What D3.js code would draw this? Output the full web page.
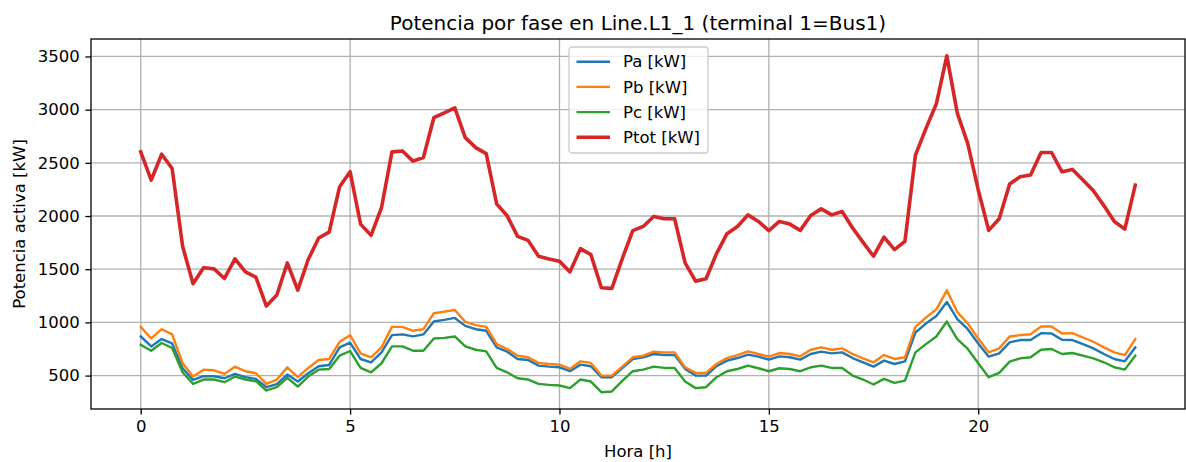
<!DOCTYPE html>
<html>
<head>
<meta charset="utf-8">
<script src="https://cdn.jsdelivr.net/npm/d3@7"></script>
<style>
  body { margin: 0; background: #fff; }
  svg { display: block; font-family: "DejaVu Sans", sans-serif; }
</style>
</head>
<body>
<svg id="chart" width="1186" height="462"></svg>
<script>
// hora del dia (paso de 15 min)
var hours = [0,0.25,0.5,0.75,1,1.25,1.5,1.75,2,2.25,2.5,2.75,3,3.25,3.5,3.75,
  4,4.25,4.5,4.75,5,5.25,5.5,5.75,6,6.25,6.5,6.75,7,7.25,7.5,7.75,
  8,8.25,8.5,8.75,9,9.25,9.5,9.75,10,10.25,10.5,10.75,11,11.25,11.5,11.75,
  12,12.25,12.5,12.75,13,13.25,13.5,13.75,14,14.25,14.5,14.75,15,15.25,15.5,15.75,
  16,16.25,16.5,16.75,17,17.25,17.5,17.75,18,18.25,18.5,18.75,19,19.25,19.5,19.75,
  20,20.25,20.5,20.75,21,21.25,21.5,21.75,22,22.25,22.5,22.75,23,23.25,23.5,23.75];

var Pa = [868,774,843,802,569,460,494,494,475,516,485,469,391,419,510,444,522,588,600,765,
  810,656,625,718,880,887,868,887,1008,1024,1042,967,936,921,765,725,656,647,594,584,578,541,603,588,485,485,
  570,656,672,703,693,693,563,500,500,588,641,665,697,678,650,681,672,650,703,725,709,718,665,625,584,641,609,
  634,905,989,1061,1192,1030,936,802,678,709,812,834,834,899,896,837,834,796,756,703,656,634,765];

var Pb = [958,849,936,887,616,491,556,550,516,584,541,522,422,463,578,485,572,647,656,818,
  880,708,672,765,958,958,921,936,1086,1101,1117,1005,974,958,796,750,687,672,619,609,603,563,634,619,500,500,
  585,672,687,725,718,718,578,525,525,609,665,693,728,703,678,712,703,681,743,765,743,756,703,662,625,693,656,
  672,958,1045,1123,1301,1098,989,849,718,756,868,880,889,961,961,896,899,858,818,765,718,693,843];

var Pc = [790,734,806,759,531,422,463,463,438,491,463,447,360,391,478,397,491,556,562,687,
  731,572,531,616,775,775,734,734,849,855,868,775,743,728,572,531,475,463,422,413,407,382,463,444,344,351,
  450,541,556,584,572,572,444,382,391,485,541,562,594,569,541,569,562,541,578,594,572,572,500,463,416,469,431,
  453,718,796,868,1008,843,750,616,485,525,631,662,672,743,750,703,712,687,662,625,578,556,687];

var Ptot = [2603,2338,2581,2447,1715,1363,1513,1503,1413,1597,1475,1425,1154,1257,1559,1304,1591,1793,1849,2276,
  2416,1924,1818,2080,2603,2612,2516,2550,2924,2970,3017,2737,2643,2587,2114,2002,1809,1771,1622,1597,1575,1475,1693,1637,1326,1320,
  1600,1862,1902,1995,1974,1974,1559,1388,1410,1647,1834,1902,2011,1949,1862,1949,1924,1865,2005,2067,2011,2042,1887,1752,1622,1802,1684,
  1762,2572,2821,3055,3506,2967,2681,2245,1865,1974,2301,2369,2385,2597,2597,2416,2438,2338,2238,2098,1949,1877,2291];

var seriesNames = ["Pa [kW]", "Pb [kW]", "Pc [kW]", "Ptot [kW]"];
var xTicks = [0, 5, 10, 15, 20];
var yTicks = [500, 1000, 1500, 2000, 2500, 3000, 3500];

var colors = ["#1f77b4", "#ff7f0e", "#2ca02c", "#d62728"];
var widths = [2.4, 2.4, 2.4, 3.6];
var fs = 16.5;

var m = {left: 91, right: 1185, top: 39, bottom: 409};

var svg = d3.select("#chart");
svg.append("rect").attr("width", 1186).attr("height", 462).attr("fill", "#fff");

// margen 5% como matplotlib
var xPad = (d3.max(hours) - d3.min(hours)) * 0.05;
var x = d3.scaleLinear()
  .domain([d3.min(hours) - xPad, d3.max(hours) + xPad])
  .range([m.left, m.right]);

var allVals = Pa.concat(Pb, Pc, Ptot);
var yPad = (d3.max(allVals) - d3.min(allVals)) * 0.05;
var y = d3.scaleLinear()
  .domain([d3.min(allVals) - yPad, d3.max(allVals) + yPad])
  .range([m.bottom, m.top]);

// grid
var grid = svg.append("g").attr("stroke", "#b0b0b0").attr("stroke-width", 1.3);
grid.selectAll(".gx").data(xTicks).enter().append("line")
  .attr("x1", d => x(d)).attr("x2", d => x(d))
  .attr("y1", m.top).attr("y2", m.bottom);
grid.selectAll(".gy").data(yTicks).enter().append("line")
  .attr("x1", m.left).attr("x2", m.right)
  .attr("y1", d => y(d)).attr("y2", d => y(d));

// lines
var series = [Pa, Pb, Pc, Ptot];
var line = d3.line()
  .x((d, i) => x(hours[i]))
  .y(d => y(d));

svg.append("defs").append("clipPath").attr("id", "clip")
  .append("rect").attr("x", m.left).attr("y", m.top)
  .attr("width", m.right - m.left).attr("height", m.bottom - m.top);

svg.append("g").attr("clip-path", "url(#clip)")
  .selectAll("path").data(series).enter().append("path")
  .attr("d", d => line(d))
  .attr("fill", "none")
  .attr("stroke", (d, i) => colors[i])
  .attr("stroke-width", (d, i) => widths[i])
  .attr("stroke-linejoin", "round")
  .attr("stroke-linecap", "square");

// axes
var xAxis = svg.append("g")
  .attr("transform", "translate(0," + m.bottom + ")")
  .call(d3.axisBottom(x).tickValues(xTicks).tickSize(5.6).tickPadding(5.6).tickFormat(d3.format("d")));
var yAxis = svg.append("g")
  .attr("transform", "translate(" + m.left + ",0)")
  .call(d3.axisLeft(y).tickValues(yTicks).tickSize(5.6).tickPadding(5.6).tickFormat(d3.format("d")));

[xAxis, yAxis].forEach(function(a) {
  a.select(".domain").remove();
  a.selectAll(".tick line").attr("stroke", "#000").attr("stroke-width", 1.3);
  a.selectAll(".tick text").attr("fill", "#000")
    .style("font-size", fs + "px").style("font-family", "DejaVu Sans");
});

// spines
svg.append("rect")
  .attr("x", m.left).attr("y", m.top)
  .attr("width", m.right - m.left).attr("height", m.bottom - m.top)
  .attr("fill", "none").attr("stroke", "#000").attr("stroke-width", 1.3);

// title and labels
svg.append("text")
  .attr("x", (m.left + m.right) / 2).attr("y", 29.5)
  .attr("text-anchor", "middle").style("font-size", "20px")
  .text("Potencia por fase en Line.L1_1 (terminal 1=Bus1)");

svg.append("text")
  .attr("x", (m.left + m.right) / 2).attr("y", 457)
  .attr("text-anchor", "middle").style("font-size", fs + "px")
  .text("Hora [h]");

svg.append("text")
  .attr("transform", "translate(25," + ((m.top + m.bottom) / 2) + ") rotate(-90)")
  .attr("text-anchor", "middle").style("font-size", fs + "px")
  .text("Potencia activa [kW]");

// legend
var lg = svg.append("g").attr("transform", "translate(569,47)");
lg.append("rect")
  .attr("width", 139).attr("height", 106).attr("rx", 3)
  .attr("fill", "#fff").attr("fill-opacity", 0.8)
  .attr("stroke", "#cccccc").attr("stroke-width", 1.3);

var rows = lg.selectAll(".row").data(seriesNames).enter().append("g")
  .attr("transform", (d, i) => "translate(0," + (14.7 + i * 25.2) + ")");
rows.append("line")
  .attr("x1", 7.5).attr("x2", 41)
  .attr("stroke", (d, i) => colors[i])
  .attr("stroke-width", (d, i) => widths[i]);
rows.append("text")
  .attr("x", 54).attr("dy", "0.35em")
  .style("font-size", fs + "px")
  .text(d => d);
</script>
</body>
</html>
